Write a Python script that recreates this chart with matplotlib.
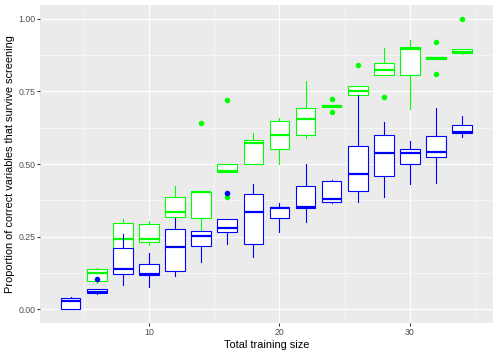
import numpy as np
import matplotlib
matplotlib.use("Agg")
import matplotlib.pyplot as plt
from matplotlib.ticker import MultipleLocator, FuncFormatter

plt.rcParams['font.family'] = ['Liberation Sans', 'DejaVu Sans']

# training sizes
green_x = [6, 8, 10, 12, 14, 16, 18, 20, 22, 24, 26, 28, 30, 32, 34]
blue_x = [4, 6, 8, 10, 12, 14, 16, 18, 20, 22, 24, 26, 28, 30, 32, 34]

# box stats: lower whisker, q1, median, q3, upper whisker
green_lo = [0.089, 0.190, 0.221, 0.300, 0.272, 0.471, 0.501, 0.500, 0.591, 0.696, 0.737, 0.808, 0.689, 0.862, 0.880]
green_q1 = [0.097, 0.200, 0.230, 0.316, 0.313, 0.471, 0.501, 0.553, 0.599, 0.696, 0.737, 0.808, 0.808, 0.862, 0.882]
green_med = [0.125, 0.241, 0.242, 0.334, 0.402, 0.475, 0.574, 0.600, 0.654, 0.700, 0.753, 0.824, 0.897, 0.866, 0.885]
green_q3 = [0.137, 0.298, 0.292, 0.385, 0.405, 0.501, 0.582, 0.648, 0.693, 0.705, 0.769, 0.847, 0.902, 0.870, 0.895]
green_hi = [0.140, 0.309, 0.303, 0.424, 0.405, 0.501, 0.606, 0.658, 0.786, 0.705, 0.769, 0.899, 0.928, 0.870, 0.895]
green_out = [[], [], [], [], [0.641], [0.721, 0.387], [], [], [], [0.724, 0.680],
             [0.840], [0.730], [], [0.920, 0.811], [1.0]]

blue_lo = [0.000, 0.053, 0.082, 0.075, 0.114, 0.161, 0.226, 0.180, 0.264, 0.301, 0.364, 0.368, 0.385, 0.430, 0.434, 0.594]
blue_q1 = [0.000, 0.056, 0.120, 0.116, 0.132, 0.216, 0.264, 0.223, 0.315, 0.347, 0.369, 0.408, 0.460, 0.500, 0.523, 0.606]
blue_med = [0.029, 0.060, 0.139, 0.121, 0.214, 0.251, 0.278, 0.334, 0.349, 0.353, 0.379, 0.466, 0.538, 0.539, 0.541, 0.609]
blue_q3 = [0.037, 0.068, 0.209, 0.154, 0.275, 0.268, 0.310, 0.397, 0.353, 0.424, 0.441, 0.562, 0.601, 0.553, 0.595, 0.636]
blue_hi = [0.040, 0.068, 0.258, 0.194, 0.313, 0.268, 0.310, 0.430, 0.367, 0.500, 0.445, 0.737, 0.646, 0.579, 0.694, 0.667]
blue_out = [[], [0.103], [], [], [], [], [0.401], [], [], [], [], [], [], [], [], []]


def make_stats(lo, q1, med, q3, hi, out):
    return [dict(whislo=a, q1=b, med=c, q3=d, whishi=e, fliers=f)
            for a, b, c, d, e, f in zip(lo, q1, med, q3, hi, out)]


fig = plt.figure(figsize=(498 / 72, 355 / 72), dpi=72)
ax = fig.add_axes([40 / 498, 32 / 355, 453 / 498, 318 / 355])
ax.set_facecolor('#EBEBEB')

for stats, xs, col, z in [
        (make_stats(green_lo, green_q1, green_med, green_q3, green_hi, green_out), green_x, '#00FF00', 3),
        (make_stats(blue_lo, blue_q1, blue_med, blue_q3, blue_hi, blue_out), blue_x, '#0000FF', 4)]:
    ax.bxp(stats, positions=xs, widths=1.5, patch_artist=True, showcaps=False,
           manage_ticks=False, zorder=z,
           boxprops=dict(facecolor='white', edgecolor=col, linewidth=1.1),
           medianprops=dict(color=col, linewidth=2.2),
           whiskerprops=dict(color=col, linewidth=1.1),
           flierprops=dict(marker='o', markerfacecolor=col, markeredgecolor=col,
                           markersize=4.5, linestyle='none'))

ax.set_xlim(1.65, 36.36)
ax.set_ylim(-0.048, 1.048)
ax.xaxis.set_major_locator(MultipleLocator(10))
ax.xaxis.set_minor_locator(MultipleLocator(5))
ax.yaxis.set_major_locator(MultipleLocator(0.25))
ax.yaxis.set_minor_locator(MultipleLocator(0.125))
ax.yaxis.set_major_formatter(FuncFormatter(lambda v, p: f"{v:.2f}"))

ax.grid(which='major', color='white', linewidth=1.1)
ax.grid(which='minor', color='white', linewidth=0.55)
ax.set_axisbelow(True)
for s in ax.spines.values():
    s.set_visible(False)
ax.tick_params(which='major', length=2.75, width=1.07, color='#333333',
               labelsize=8.8, labelcolor='#4D4D4D', pad=2)
ax.tick_params(which='minor', length=0)

ax.set_xlabel('Total training size', fontsize=11, labelpad=3)
ax.set_ylabel('Proportion of correct variables that survive screening', fontsize=11, labelpad=3)

fig.savefig('out.png', dpi=72)
